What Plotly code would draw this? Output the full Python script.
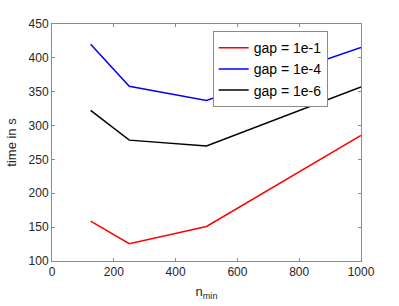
import plotly.graph_objects as go

n_min = [125, 250, 500, 1000]
gap_1e1 = [159, 125.5, 151, 285.5]
gap_1e4 = [420, 358, 337, 415.5]
gap_1e6 = [322.5, 278.5, 270, 357]
names = ["gap = 1e-1", "gap = 1e-4", "gap = 1e-6"]
colors = ["#ff0000", "#0000ff", "#000000"]
x_ticks = [0, 200, 400, 600, 800, 1000]
y_ticks = [100, 150, 200, 250, 300, 350, 400, 450]

fig = go.Figure()
for ys, nm, c in zip([gap_1e1, gap_1e4, gap_1e6], names, colors):
    fig.add_trace(go.Scatter(x=n_min, y=ys, mode="lines", name=nm,
                             line=dict(color=c, width=1.5)))

axis_common = dict(showline=True, linecolor="#8c8c8c", linewidth=1, mirror="ticks",
                   ticks="inside", ticklen=3, tickcolor="#8c8c8c", showgrid=False,
                   zeroline=False, automargin=False,
                   tickfont=dict(size=12, color="#262626"))
fig.update_xaxes(range=[0, 1000], tickvals=x_ticks,
                 title=dict(text="n<sub>min</sub>", font=dict(size=13, color="#262626"), standoff=8),
                 **axis_common)
fig.update_yaxes(range=[100, 450], tickvals=y_ticks,
                 title=dict(text="time in s", font=dict(size=13, color="#262626"), standoff=9),
                 **axis_common)
fig.update_layout(
    width=399, height=306, margin=dict(l=51.5, r=38, t=23.5, b=45),
    plot_bgcolor="white", paper_bgcolor="white",
    font=dict(family="Liberation Sans, Arial, sans-serif", color="#262626"),
    legend=dict(x=0.52, y=0.97, xanchor="left", yanchor="top",
                bordercolor="#8c8c8c", borderwidth=1, bgcolor="white",
                font=dict(size=14, color="#000000"), tracegroupgap=0,
                itemwidth=30),
    showlegend=True,
)
fig.write_html("out.html", config={"displayModeBar": False},
               post_script="document.body.style.margin='0';document.body.style.overflow='hidden';")
